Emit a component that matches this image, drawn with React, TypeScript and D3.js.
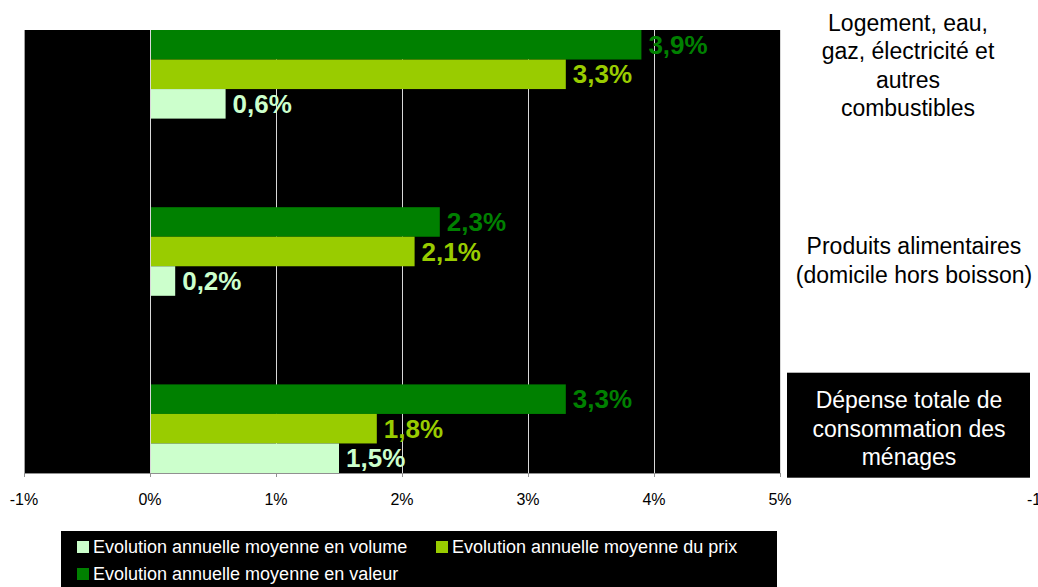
import React, { useEffect, useRef } from "react";
import * as d3 from "d3";

// categories, top to bottom
const categories = ["logement", "alimentaire", "total"];
const categoryLabels = [
  ["Logement, eau,", "gaz, électricité et", "autres", "combustibles"],
  ["Produits alimentaires", "(domicile hors boisson)"],
  ["Dépense totale de", "consommation des", "ménages"],
];
const highlighted = [false, false, true];

// series values (%)
const valeur = [3.9, 2.3, 3.3];
const prix = [3.3, 2.1, 1.8];
const volume = [0.6, 0.2, 1.5];

const seriesKeys = ["valeur", "prix", "volume"];
const seriesNames = [
  "Evolution annuelle moyenne en valeur",
  "Evolution annuelle moyenne du prix",
  "Evolution annuelle moyenne en volume",
];
const seriesColors = ["#008000", "#99CC00", "#CCFFCC"];

const xTicks = [-1, 0, 1, 2, 3, 4, 5];
const secondaryTicks = [-1];

const W = 1038;
const H = 587;
const FONT = "'Liberation Sans', Arial, sans-serif";

const fmt = (v: number) => v.toFixed(1).replace(".", ",") + "%";

const App = () => {
  const ref = useRef<SVGSVGElement>(null);

  useEffect(() => {
    const svg = d3.select(ref.current);
    svg.selectAll("*").remove();

    const plot = { left: 24, right: 780, top: 30, bottom: 473 };

    const x = d3.scaleLinear().domain([-1, 5]).range([plot.left, plot.right]);
    const y = d3
      .scaleBand<string>()
      .domain(categories)
      .range([plot.top, plot.bottom])
      .paddingInner(0.5)
      .paddingOuter(0);
    const ySub = d3
      .scaleBand<string>()
      .domain(seriesKeys)
      .range([0, y.bandwidth()]);

    const values: Record<string, number[]> = { valeur, prix, volume };

    // plot background
    svg.append("rect")
      .attr("x", plot.left)
      .attr("y", plot.top)
      .attr("width", plot.right - plot.left)
      .attr("height", plot.bottom - plot.top)
      .attr("fill", "#000");

    // gridlines
    svg.append("g")
      .selectAll("line")
      .data(xTicks)
      .join("line")
      .attr("x1", (d) => Math.round(x(d)) + 0.5)
      .attr("x2", (d) => Math.round(x(d)) + 0.5)
      .attr("y1", plot.top)
      .attr("y2", plot.bottom)
      .attr("stroke", (d) => (d === -1 ? "#a0a0a0" : "#d8d8d8"))
      .attr("stroke-width", 1);

    // bars + value labels
    seriesKeys.forEach((key, si) => {
      svg.append("g")
        .selectAll("rect")
        .data(categories)
        .join("rect")
        .attr("x", x(0) + 1)
        .attr("y", (c) => (y(c) as number) + (ySub(key) as number))
        .attr("width", (c, i) => x(values[key][i]) - x(0) - 1)
        .attr("height", ySub.bandwidth())
        .attr("fill", seriesColors[si]);

      svg.append("g")
        .selectAll("text")
        .data(categories)
        .join("text")
        .attr("x", (c, i) => x(values[key][i]) + 7)
        .attr("y", (c) => (y(c) as number) + (ySub(key) as number) + ySub.bandwidth() / 2)
        .attr("dy", "0.35em")
        .attr("font-family", FONT)
        .attr("font-weight", "bold")
        .attr("font-size", 26)
        .attr("fill", seriesColors[si])
        .text((c, i) => fmt(values[key][i]));
    });

    // x axis
    const axis = svg.append("g");
    axis.append("line")
      .attr("x1", plot.left)
      .attr("x2", plot.right)
      .attr("y1", plot.bottom + 0.5)
      .attr("y2", plot.bottom + 0.5)
      .attr("stroke", "#909090");
    axis.selectAll("line.tick")
      .data(xTicks)
      .join("line")
      .attr("class", "tick")
      .attr("x1", (d) => Math.round(x(d)) + 0.5)
      .attr("x2", (d) => Math.round(x(d)) + 0.5)
      .attr("y1", plot.bottom)
      .attr("y2", plot.bottom + 4)
      .attr("stroke", "#909090");
    axis.selectAll("text")
      .data(xTicks)
      .join("text")
      .attr("x", (d) => x(d))
      .attr("y", 505)
      .attr("text-anchor", "middle")
      .attr("font-family", FONT)
      .attr("font-size", 16)
      .attr("fill", "#000")
      .text((d) => `${d}%`);

    // secondary axis label (runs off the right edge, as in the original)
    svg.append("g")
      .selectAll("text")
      .data(secondaryTicks)
      .join("text")
      .attr("x", 1027)
      .attr("y", 505)
      .attr("font-family", FONT)
      .attr("font-size", 16)
      .attr("fill", "#000")
      .text((d) => `${d}%`);

    // category labels on the right
    const labelX = 908;
    const lineH = 28.5;
    const shiftY = [-9, 9, 0];
    const shiftX = [0, 6, 1];
    categories.forEach((c, i) => {
      const lines = categoryLabels[i];
      const mid = (y(c) as number) + y.bandwidth() / 2 + shiftY[i];
      if (highlighted[i]) {
        svg.append("rect")
          .attr("x", 787)
          .attr("y", mid - 56)
          .attr("width", 243)
          .attr("height", 105)
          .attr("fill", "#000");
      }
      const t = svg.append("text")
        .attr("text-anchor", "middle")
        .attr("font-family", FONT)
        .attr("font-size", 23)
        .attr("fill", highlighted[i] ? "#fff" : "#000");
      lines.forEach((ln, j) => {
        t.append("tspan")
          .attr("x", labelX + shiftX[i])
          .attr("y", mid + (j - (lines.length - 1) / 2) * lineH + 8)
          .text(ln);
      });
    });

    // legend
    const lg = svg.append("g");
    lg.append("rect")
      .attr("x", 61)
      .attr("y", 531)
      .attr("width", 716)
      .attr("height", 56)
      .attr("fill", "#000");
    const legendOrder = [2, 1, 0];
    const legendPos = [
      { x: 77, y: 541 },
      { x: 436, y: 541 },
      { x: 77, y: 568 },
    ];
    legendOrder.forEach((si, k) => {
      const p = legendPos[k];
      lg.append("rect")
        .attr("x", p.x)
        .attr("y", p.y)
        .attr("width", 12)
        .attr("height", 12)
        .attr("fill", seriesColors[si]);
      lg.append("text")
        .attr("x", p.x + 16)
        .attr("y", p.y + 12)
        .attr("font-family", FONT)
        .attr("font-size", 18)
        .attr("fill", "#fff")
        .text(seriesNames[si]);
    });
  }, []);

  return (
    <svg
      ref={ref}
      width={W}
      height={H}
      style={{ position: "absolute", left: 0, top: 0, background: "#fff" }}
    />
  );
};

export default App;
